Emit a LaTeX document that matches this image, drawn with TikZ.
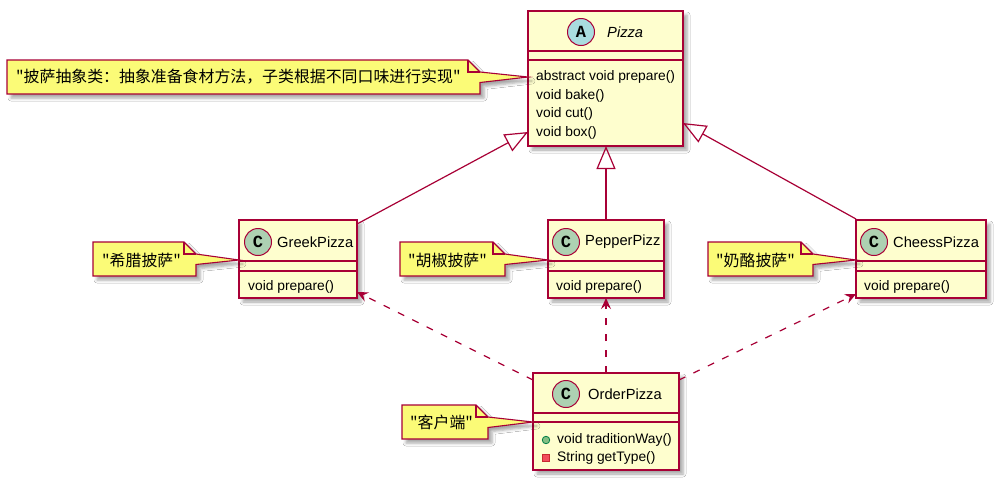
\documentclass[tikz,border=0pt]{standalone}
\usepackage{fontspec}
\setmainfont{Liberation Sans}
\newfontfamily\cjk{Noto Sans CJK SC}
\newfontfamily\spotfont{Liberation Mono}
\usetikzlibrary{arrows.meta,shadows.blur,calc}
\definecolor{umlbg}{HTML}{FEFECE}
\definecolor{umlbd}{HTML}{A80036}
\definecolor{notebg}{HTML}{FBFB77}
\definecolor{spotc}{HTML}{ADD1B2}
\definecolor{spota}{HTML}{A9DCDF}
\definecolor{pubfill}{HTML}{84BE84}
\definecolor{pubbd}{HTML}{038048}
\definecolor{privfill}{HTML}{F24D5C}
\definecolor{privbd}{HTML}{C82930}
\tikzset{
 umlshadow/.style={blur shadow={shadow xshift=4pt,shadow yshift=-4pt,shadow blur radius=3pt,shadow opacity=35}},
 classbox/.style={draw=umlbd, fill=umlbg, line width=1.6pt, inner sep=0pt, outer sep=0pt, umlshadow},
 sepline/.style={draw=umlbd, line width=1.6pt},
 spot/.style={circle, draw=umlbd, line width=1pt, minimum size=27pt, inner sep=0pt, font=\spotfont\bfseries\fontsize{17}{17}\selectfont},
 cname/.style={anchor=west, inner sep=0pt, font=\fontsize{14.7}{17}\selectfont},
 member/.style={anchor=west, inner sep=0pt, font=\fontsize{13.8}{16}\selectfont},
 notepath/.style={draw=umlbd, fill=notebg, line width=1.1pt, line join=miter, umlshadow},
 notefold/.style={draw=umlbd, line width=1.1pt},
 notetext/.style={anchor=west, inner sep=0pt, font=\cjk\fontsize{15.9}{19}\selectfont},
 inherit/.style={draw=umlbd, line width=1.2pt, -{Triangle[open, length=23pt, width=19pt]}},
 depend/.style={draw=umlbd, line width=1.2pt, dash pattern=on 7pt off 9pt, -{Stealth[length=11pt, width=10pt, inset=4pt]}},
 pubicon/.style={circle, draw=pubbd, fill=pubfill, minimum size=7.5pt, inner sep=0pt, line width=0.8pt},
 privicon/.style={rectangle, draw=privbd, fill=privfill, minimum size=7.5pt, inner sep=0pt, line width=0.8pt},
}
\newcommand{\umlnote}[5]{%
  \path[notepath] (#1,#2) -- (#3-12,#2) -- (#3,#2+12) -- (#5) -- (#3,#2+22.5) -- (#3,#4) -- (#1,#4) -- cycle;
  \draw[notefold] (#3-12,#2) -- (#3-12,#2+12) -- (#3,#2+12);
}
\begin{document}
\begin{tikzpicture}[x=1pt,y=-1pt]
\fill[white] (0,0) rectangle (998,483);
\useasboundingbox (0,0) rectangle (998,483);

% class boxes
\node[classbox, minimum width=155pt, minimum height=135pt] (pizza) at (605.5,78.5) {};
\node[classbox, minimum width=118pt, minimum height=78pt] (greek) at (298,259) {};
\node[classbox, minimum width=116pt, minimum height=78pt] (pepper) at (606,259) {};
\node[classbox, minimum width=130pt, minimum height=78pt] (cheess) at (921,259) {};
\node[classbox, minimum width=146pt, minimum height=97pt] (order) at (606,421.5) {};

% connectors
\draw[inherit] ([yshift=-4pt]greek.north east) -- (pizza.west |- 0,132);
\draw[inherit] (pepper.north) -- (pepper.north |- pizza.south);
\draw[inherit] ([yshift=1pt]cheess.north west) -- (pizza.east |- 0,123);
\draw[depend] ([yshift=-7pt]order.north west) -- (greek.east |- 0,292);
\draw[depend] (order.north) -- (pepper.south);
\draw[depend] ([yshift=-7pt]order.north east) -- (cheess.west |- 0,294);

% separators
\draw[sepline] (pizza.west |- 0,51) -- (pizza.east |- 0,51);
\draw[sepline] (pizza.west |- 0,60) -- (pizza.east |- 0,60);
\foreach \c in {greek,pepper,cheess}{
  \draw[sepline] (\c.west |- 0,261) -- (\c.east |- 0,261);
  \draw[sepline] (\c.west |- 0,271) -- (\c.east |- 0,271);
}
\draw[sepline] (order.west |- 0,413) -- (order.east |- 0,413);
\draw[sepline] (order.west |- 0,422) -- (order.east |- 0,422);

% headers
\node[spot, fill=spota] (pizzaspot) at (581,32) {A};
\node[cname, font=\itshape\fontsize{14.7}{17}\selectfont] (pizzaname) at (607,32) {Pizza};
\node[spot, fill=spotc] (greekspot) at (258,242) {C};
\node[cname] (greekname) at (277,242) {GreekPizza};
\node[spot, fill=spotc] (pepperspot) at (566,242) {C};
\node[cname] (peppername) at (585,242) {PepperPizz};
\node[spot, fill=spotc] (cheessspot) at (874,242) {C};
\node[cname] (cheessname) at (893,242) {CheessPizza};
\node[spot, fill=spotc] (orderspot) at (566,394) {C};
\node[cname] (ordername) at (588,394) {OrderPizza};

% members
\node[member] (pm1) at (536,77) {abstract void prepare()};
\node[member] (pm2) at (536,95.5) {void bake()};
\node[member] (pm3) at (536,114) {void cut()};
\node[member] (pm4) at (536,132.5) {void box()};
\node[member] (gm1) at (248,287) {void prepare()};
\node[member] (ppm1) at (556,287) {void prepare()};
\node[member] (cm1) at (864,287) {void prepare()};
\node[pubicon] (oi1) at (546,440) {};
\node[member] (om1) at (557,440) {void traditionWay()};
\node[privicon] (oi2) at (546,458) {};
\node[member] (om2) at (557,458) {String getType()};

% notes
\umlnote{7}{60}{480}{94}{pizza.west |- 0,77}
\node[notetext] (n1) at (16,77) {"披萨抽象类：抽象准备食材方法，子类根据不同口味进行实现"};
\umlnote{93}{242}{196}{276}{greek.west |- 0,260}
\node[notetext] (n2) at (102,260) {"希腊披萨"};
\umlnote{400}{242}{505}{276}{pepper.west |- 0,260}
\node[notetext] (n3) at (408,260) {"胡椒披萨"};
\umlnote{708}{242}{813}{276}{cheess.west |- 0,260}
\node[notetext] (n4) at (716,260) {"奶酪披萨"};
\umlnote{402}{405}{488}{439}{order.west |- 0,422}
\node[notetext] (n5) at (410,422) {"客户端"};
\end{tikzpicture}
\end{document}
